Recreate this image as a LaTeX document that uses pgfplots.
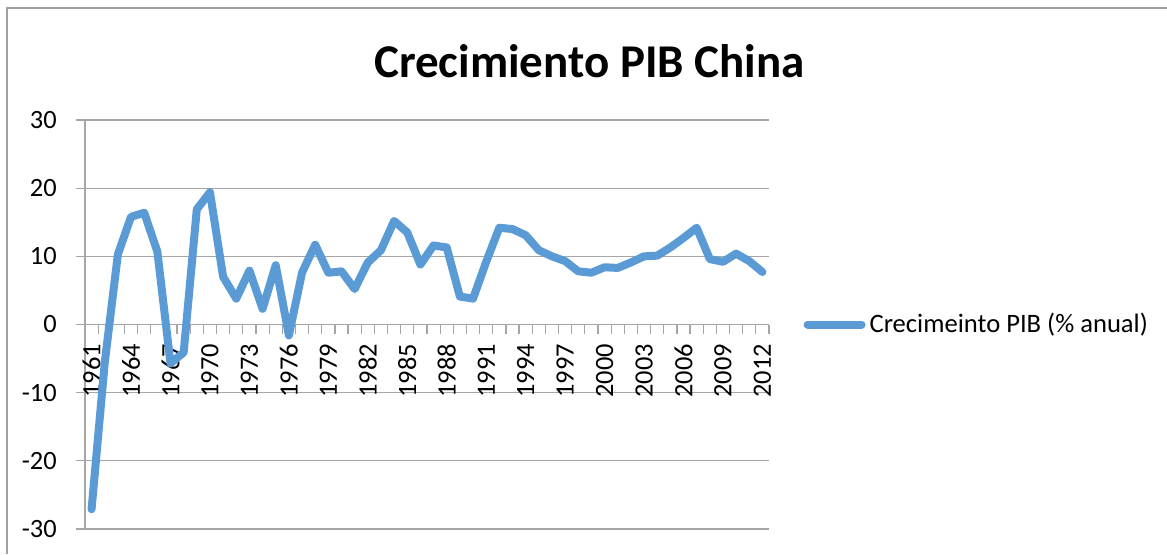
\documentclass[border=0pt]{standalone}
\usepackage{pgfplots}
\pgfplotsset{compat=1.18}
\usepackage{fontspec}
\setmainfont{Carlito}
\definecolor{excelblue}{HTML}{5B9BD5}
\definecolor{gridgray}{HTML}{A6A6A6}
\definecolor{framegray}{HTML}{A0A0A0}
\pgfplotstableread{
idx val
0.5 -27.1
1.5 -5.6
2.5 10.3
3.5 15.8
4.5 16.4
5.5 10.7
6.5 -5.7
7.5 -4.1
8.5 16.9
9.5 19.4
10.5 7.0
11.5 3.8
12.5 7.9
13.5 2.3
14.5 8.7
15.5 -1.6
16.5 7.6
17.5 11.7
18.5 7.6
19.5 7.8
20.5 5.2
21.5 9.1
22.5 10.9
23.5 15.2
24.5 13.5
25.5 8.8
26.5 11.6
27.5 11.3
28.5 4.1
29.5 3.8
30.5 9.2
31.5 14.2
32.5 14.0
33.5 13.1
34.5 10.9
35.5 10.0
36.5 9.3
37.5 7.8
38.5 7.6
39.5 8.4
40.5 8.3
41.5 9.1
42.5 10.0
43.5 10.1
44.5 11.3
45.5 12.7
46.5 14.2
47.5 9.6
48.5 9.2
49.5 10.4
50.5 9.3
51.5 7.7
}\gdpdata
\begin{document}
\begin{tikzpicture}
\useasboundingbox (0,0) rectangle (583.5pt,277pt);
\draw[framegray, line width=0.8pt] (3.5pt,0pt) -- (3.5pt,273pt) -- (590pt,273pt);
\node[font=\fontsize{23.5pt}{26pt}\selectfont\bfseries, anchor=base] at (294.75pt,238.5pt) {Crecimiento PIB China};
\begin{axis}[
  at={(42.5pt,12.5pt)}, anchor=south west,
  scale only axis, width=342pt, height=204.5pt,
  xmin=0, xmax=52, ymin=-30, ymax=30,
  axis y line=left, axis x line=middle,
  axis line style={gridgray, line width=0.6pt, -},
  ytick={-30,-20,...,30},
  yticklabels={-30,-20,-10,0,10,20,30},
  ymajorgrids, grid style={gridgray, line width=0.6pt},
  xtick={0,1,...,52}, xticklabels={},
  tick style={gridgray, line width=0.6pt},
  tick align=outside,
  major tick length=4.5pt,
  extra x ticks={0.5,3.5,...,51.5},
  extra x tick labels={1961,1964,1967,1970,1973,1976,1979,1982,1985,1988,1991,1994,1997,2000,2003,2006,2009,2012},
  extra x tick style={major tick length=0pt, grid=none},
  xticklabel style={font=\normalsize, rotate=90, anchor=east, scale=1.32, xshift=-3.8pt},
  yticklabel style={font=\normalsize, scale=1.32, xshift=-3.8pt},
  clip=false,
  legend style={at={(1.05,0.5)}, anchor=west, draw=none, fill=none, font=\fontsize{13.3pt}{15pt}\selectfont, inner sep=0pt},
  legend image code/.code={\draw[excelblue, line width=4pt, line cap=round] (0pt,0pt) -- (27pt,0pt);},
  legend cell align=left,
]
\addplot[excelblue, line width=4pt, line join=round, line cap=round] table[x=idx, y=val] {\gdpdata};
\addlegendentry{Crecimeinto PIB (\% anual)}
\end{axis}
\end{tikzpicture}
\end{document}
